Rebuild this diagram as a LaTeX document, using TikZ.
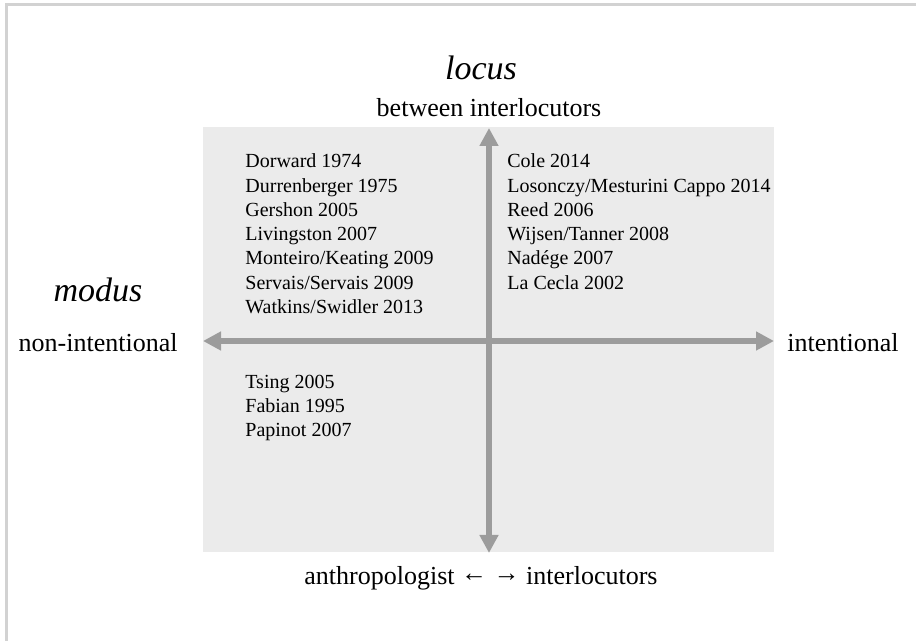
\documentclass[tikz,border=0pt]{standalone}
\usepackage{fontspec}
\setmainfont{Liberation Serif}
\usetikzlibrary{arrows.meta}
\definecolor{panelgray}{HTML}{EBEBEB}
\definecolor{axisgray}{HTML}{9C9C9C}
\definecolor{framegray}{HTML}{D2D2D2}
\tikzset{
	axis/.style={line width=2.6pt,draw=axisgray,{Triangle[length=9pt,width=9pt]}-{Triangle[length=9pt,width=9pt]}},
	refs/.style={anchor=north west,inner sep=0pt,align=left,font=\fontsize{10}{12.15}\selectfont},
	pole/.style={inner sep=0pt,font=\fontsize{13}{15}\selectfont},
	head/.style={inner sep=0pt,font=\fontsize{17}{20}\selectfont\itshape}
}
\newcommand{\lrarr}[1]{\raisebox{0.12em}{#1}}

\begin{document}
\begin{tikzpicture}[x=0.5pt,y=-0.5pt]
	\useasboundingbox (0,0) rectangle (916,641);
	\draw[framegray,line width=1.5pt] (6,641)--(6,5)--(916,5);

	\fill[panelgray] (203,127) rectangle (774,552);

	\coordinate (N) at (489,128);
	\coordinate (S) at (489,553);
	\coordinate (W) at (203,341);
	\coordinate (E) at (774,341);
	\draw[axis] (S)--(N);
	\draw[axis] (W)--(E);

	\node[head] (locus) at (481,68) {locus};
	\node[head] (modus) at (98,290) {modus};
	\node[pole] (between) at (489,108) {between interlocutors};
	\node[pole,anchor=east] (nonint) at (178,343) {non-intentional};
	\node[pole,anchor=west] (int) at (787,343) {intentional};
	\node[pole] (anthro) at (481,578) {anthropologist \lrarr{←} \lrarr{→} interlocutors};

	\node[refs] (topleft) at (245,153.5) {Dorward 1974\\Durrenberger 1975\\Gershon 2005\\Livingston 2007\\Monteiro/Keating 2009\\Servais/Servais 2009\\Watkins/Swidler 2013};
	\node[refs] (topright) at (507,153.5) {Cole 2014\\Losonczy/Mesturini Cappo 2014\\Reed 2006\\Wijsen/Tanner 2008\\Nadége 2007\\La Cecla 2002};
	\node[refs] (botleft) at (245,374.5) {Tsing 2005\\Fabian 1995\\Papinot 2007};

\end{tikzpicture}
\end{document}
